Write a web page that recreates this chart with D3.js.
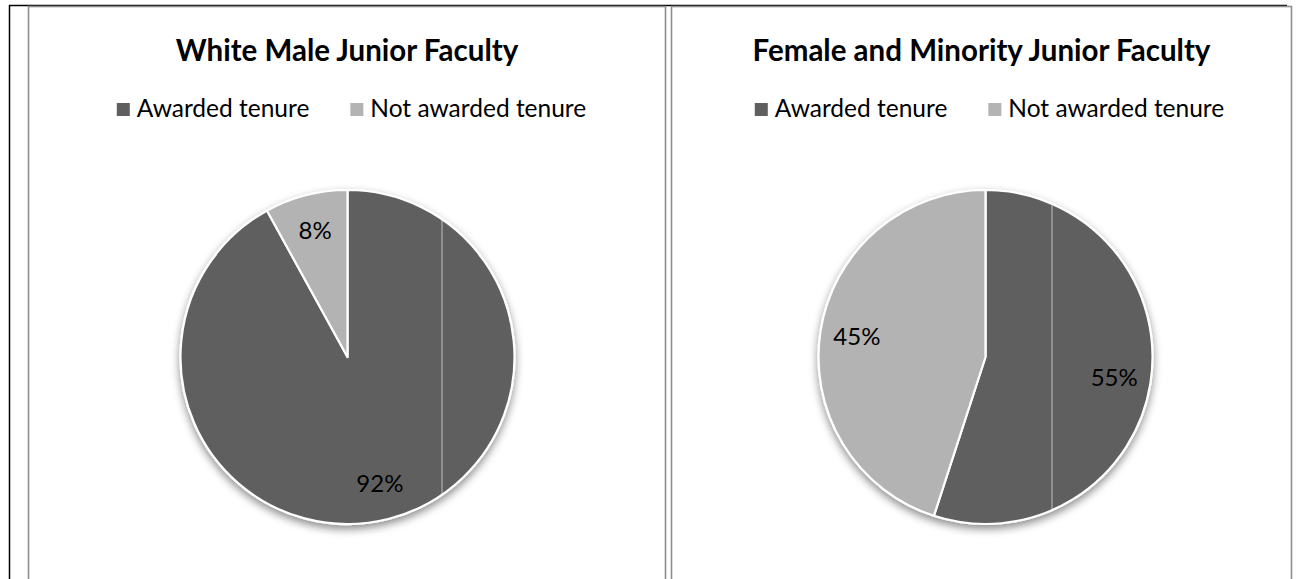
<!DOCTYPE html>
<html>
<head>
<meta charset="utf-8">
<script src="https://cdn.jsdelivr.net/npm/d3@7"></script>
<style>
  body { margin: 0; background: #fff; }
  svg { display: block; font-family: Lato, "Open Sans", sans-serif; }
</style>
</head>
<body>
<svg id="chart" width="1298" height="579"></svg>
<script>
// data
var titles = ["White Male Junior Faculty", "Female and Minority Junior Faculty"];
var categories = ["Awarded tenure", "Not awarded tenure"];
var whiteMale = [92, 8];
var femaleMinority = [55, 45];
var colors = ["#5f5f5f", "#b3b3b3"];

// layout
var panels = [
  { x0: 28.5, x1: 665.5, cx: 347.5, seam: 94, values: whiteMale },
  { x0: 671.5, x1: 1291.5, cx: 985.5, seam: 66, values: femaleMinority }
];
var cy = 357, radius = 167;

var svg = d3.select("#chart");

var defs = svg.append("defs");
var shadow = defs.append("filter").attr("id", "shadow")
  .attr("x", "-20%").attr("y", "-20%").attr("width", "140%").attr("height", "140%");
shadow.append("feDropShadow")
  .attr("dx", 0).attr("dy", 4).attr("stdDeviation", 4)
  .attr("flood-color", "#000").attr("flood-opacity", 0.45);

// table lines behind the charts
svg.append("line")
  .attr("x1", 9).attr("x2", 1287).attr("y1", 5.5).attr("y2", 5.5)
  .attr("stroke", "#000").attr("stroke-width", 1.5);
svg.append("line")
  .attr("x1", 9.5).attr("x2", 9.5).attr("y1", 5).attr("y2", 579)
  .attr("stroke", "#000").attr("stroke-width", 1.5);

var pie = d3.pie().sort(null).value(function (d) { return d; });
var arc = d3.arc().innerRadius(0).outerRadius(radius);
var labelArc = d3.arc().innerRadius(radius * 0.78).outerRadius(radius * 0.78);

panels.forEach(function (p, pi) {
  var g = svg.append("g");

  g.append("rect")
    .attr("x", p.x0).attr("y", 6.5)
    .attr("width", p.x1 - p.x0).attr("height", 600)
    .attr("fill", "#fff").attr("stroke", "#8e8e8e").attr("stroke-width", 1.6);

  g.append("text")
    .attr("x", (p.x0 + p.x1) / 2).attr("y", 61)
    .attr("text-anchor", "middle")
    .style("font-weight", "bold").style("font-size", "29.5px")
    .attr("fill", "#000")
    .text(titles[pi]);

  // legend, centred on the pie
  var legend = g.append("g");
  var items = legend.selectAll("g").data(categories).enter().append("g");
  items.append("rect")
    .attr("width", 13).attr("height", 13)
    .attr("y", 103)
    .attr("fill", function (d, i) { return colors[i]; });
  items.append("text")
    .attr("y", 116.5).attr("x", 20)
    .style("font-size", "24.5px").attr("fill", "#000")
    .text(function (d) { return d; });
  var x = 0;
  items.each(function () {
    var w = d3.select(this).select("text").node().getComputedTextLength();
    d3.select(this).attr("transform", "translate(" + x + ",0)");
    x += 20 + w + 41;
  });
  var total = x - 41;
  legend.attr("transform", "translate(" + (p.cx + 4 - total / 2) + ",0)");

  // pie
  var arcs = pie(p.values);
  var pg = g.append("g").attr("transform", "translate(" + p.cx + "," + cy + ")");
  var slices = pg.append("g").attr("filter", "url(#shadow)");
  slices.selectAll("path").data(arcs).enter().append("path")
    .attr("d", arc)
    .attr("fill", function (d, i) { return colors[i]; })
    .attr("stroke", "#fff").attr("stroke-width", 2.2)
    .attr("stroke-linejoin", "round");

  // faint seam in the picture
  var h = Math.sqrt(radius * radius - p.seam * p.seam);
  pg.append("line")
    .attr("x1", p.seam + 0.5).attr("x2", p.seam + 0.5)
    .attr("y1", -h + 1).attr("y2", h - 1)
    .attr("stroke", "#fff").attr("stroke-opacity", 0.6).attr("stroke-width", 1);

  pg.selectAll("text.lbl").data(arcs).enter().append("text")
    .attr("class", "lbl")
    .attr("transform", function (d) { return "translate(" + labelArc.centroid(d) + ")"; })
    .attr("text-anchor", "middle").attr("dy", "0.35em")
    .style("font-size", "24px").attr("fill", "#000")
    .text(function (d) { return d.data + "%"; });
});
</script>
</body>
</html>
